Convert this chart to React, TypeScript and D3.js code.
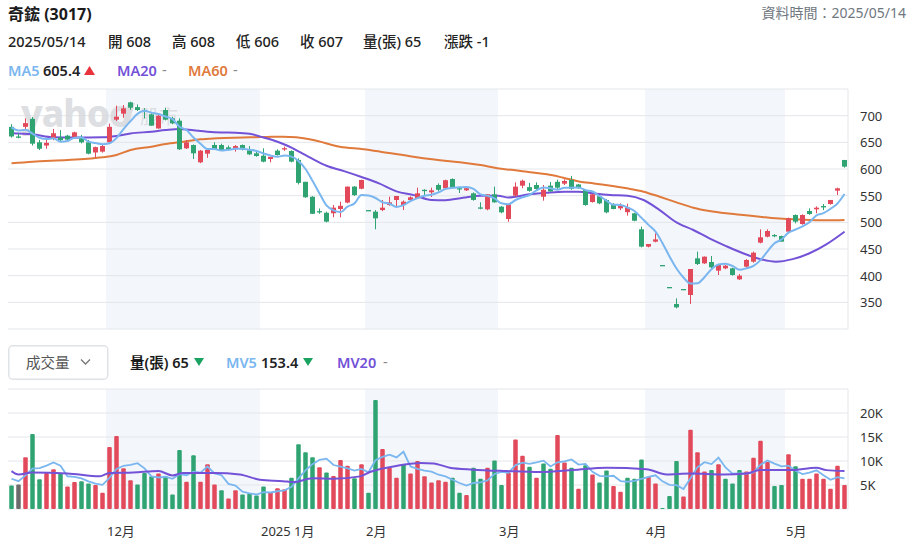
import React from "react";
import * as d3 from "d3";

// ---------- DATA ----------
const opens = [679,661,679,694,650,644,657.5,659,662.5,659.4,657.5,650,631,632.5,650,692.5,703.75,725,716,710,702.5,676,710.6,695,690.6,638.75,645,612.5,628.75,645,645,640.6,638.75,645,635,629.4,625,618.75,634.4,638,633.75,616.9,576,548,521,518,517,525,537,567,563,523,520,523,532.5,541.9,532.5,541.9,545,561,556.25,570,563.75,581.25,564,560,554.4,528,524.4,552.5,529.4,506.25,550,568.75,566,570,548,568.75,576,572.5,579.4,571,560.6,538,549,541.9,533.75,526.25,519,516.9,487,454.4,463.75,420,378.75,346.9,375,363.75,432.5,423.1,425.6,409.4,413.75,413.75,393.1,416.9,426.25,461.9,473.1,476.25,474.4,482.5,513.75,496.9,521.25,524.4,530.6,534.4,559.4,616.9];
const highs = [684,667,695,697.5,654.5,654.5,675,673,664,670,664,654.5,641.9,645,685,718.75,720,726,721,714,704.4,702,715,698,695,654.4,646,635.6,637.5,650,647.5,644,645,646,643,635,638.75,622,636.9,642,635,620,576,549,526,520,532.5,538.75,567,568,580,523,523,541.9,548,549.4,541,548.75,565,562,565,573,580,582.5,567,566,556,537.5,553,567,530.6,535,575,580,574,575,570,575.6,580,580.6,587,572,562.5,553,550,543.75,536,535.6,535,518,492,456,479.4,420,378.75,357.5,375,412.5,445,436,436.9,421,420,415,403,431,445,486.9,486.9,478,475,508.75,515,515,526.25,530,534.4,542,565,617];
const lows = [659,657.5,673,644,635.6,638,654,651,652.5,657.5,648,627.5,621,630.6,648,690,696,711,708.75,695,681,675.6,691,684,635.6,637.5,618.75,611,621,636,635,634.4,632.5,635,626,623,612.5,612.5,625,634,612.5,571,546,515.6,516,500,509.4,509.4,535.6,549.4,562,523,487,521,531,529.4,523,540,543.75,550,547.5,558,561,563.75,555,558.75,540.6,524.4,522.5,536.9,516.9,501,548,564,557.5,561,540.6,557.5,562.5,570,561,563,531,537,534,517,524.4,523,512.5,502,453,453,462.5,420,378.75,338.75,375,346.9,420,422,413.75,401.25,412,400,392,415,424.4,460.6,471.9,472,463.75,481,498,495.6,514,517,523,533,551.25,602.5];
const closes = [661,661,686,647.5,638,649,667,654,655,668.75,650,628.75,641,643,679,698,713.75,715,710.6,708,681.25,700,692.5,685.6,637,650,629.4,634.4,635.6,637.5,635.6,637,643,637,627.5,624.4,613.75,623,626.25,639,613.75,574,547,516,520.5,501.25,527.5,531,567,551,579.4,523,507.5,527.5,537.5,549.4,538.75,546.9,554.4,559,560,561,579,565,563,564,542,527.5,552.5,537.5,518.75,533.75,566.9,578,559,562.5,561,558,565,577.5,562.5,564,532.5,552.5,535.6,518.75,525,531.25,528,503,454.4,459.4,468,420,378.75,340.6,375,412.5,421.9,435.6,415.6,420,418.75,401.25,400,429.4,443.1,471.9,483.75,476.25,463.75,507.5,501.25,513.75,515.6,527.5,528,541.9,563.75,604.4];
const volumes = [4900,5100,10800,15600,6200,7500,8300,7400,4700,5600,5800,5300,5000,3400,12900,15200,8500,6000,5100,7500,6800,7400,6800,3000,12300,5700,11200,5700,9300,5100,3900,2200,3900,3000,3200,2800,4700,3500,4300,4100,6500,13500,11800,10800,8700,7600,6900,10200,9000,6400,9300,3400,22700,12500,8600,6500,9300,7400,10000,6800,5500,6000,5700,6500,3400,2900,8600,6300,8600,10100,5000,7600,14500,11100,8800,6500,9500,8400,15400,9700,8600,4200,9100,7200,5500,8000,4800,3600,6500,6300,10300,6700,5300,200,2700,10000,2600,16500,11800,7800,8100,9300,6300,5300,8100,7800,10700,14200,9800,4800,5000,11400,8900,6300,6300,7400,6300,4200,9000,5000];
const priorCloses = [690, 680, 682, 677];
const priorVolumes = [7600, 4800, 8600, 5600];

const monthStarts = [14, 36, 51, 70, 91, 111];
const monthLabels = ["12月", "2025 1月", "2月", "3月", "4月", "5月"];
const shadedMonths = [0, 2, 4];

const priceTicks = [350, 400, 450, 500, 550, 600, 650, 700];
const priceGrid = [300, 350, 400, 450, 500, 550, 600, 650, 700, 750];
const volumeTicks = [5000, 10000, 15000, 20000];
const volumeTickLabels = ["5K", "10K", "15K", "20K"];
const volumeGrid = [0, 5000, 10000, 15000, 20000, 25000];

// moving averages (bar number, value)
const ma20Bars = [1,4,7,10,14,16,18,21,23,25,27,29,31,33,35,37,39,40,41,42,44,46,48.5,51,53.5,56,58.5,61,63,65.5,68,70.5,72,75,77.5,80,82,84,86.5,89,91.3,93.6,96,98.4,100.7,103,105.5,108,110.2,112.6,115,117.4,120];
const ma20Values = [667,665,659.5,659,659.5,662,666.5,670,673,675,672.5,670,668.5,668,666,659,651,646,640,633,619,606,596,585,573,558,551,542,541.5,546,550,550,546.5,552.5,555.6,557.5,557.5,554.4,551.25,550,541.9,523,500,485.6,470,456,442,431,426.25,431,442,458.75,482.5];
const ma60Bars = [1,4,9,14,16,18,21,23,25.6,28,30.3,32.7,35,37.4,39.8,41.7,44.1,47.9,51.3,53.7,58.4,63.2,65.6,68,70.4,72.7,75.1,77.5,79.8,82.2,84.2,88.9,91.3,93.6,96,98.4,100.7,103.1,105.5,107.9,110.2,112.6,115,117.4,120];
const ma60Values = [610.6,613.75,616.9,621.9,626.25,635.6,641.9,646.9,651.25,655.6,657.5,658.75,659.4,660,660.6,659.4,654.4,641.9,636.9,632.5,623.1,615,611.9,607.5,601.25,598,593.75,590,583.75,576.25,573,563.75,557.5,548,537.5,527.5,521.25,516.9,513.75,510.6,507.5,505.6,504.4,503.75,504.4];
const mv20Bars = [1,2,4,9,13.6,15,18.4,22,24,25.5,30,33.6,36.5,39.8,41.3,44,47,50.8,52.2,56.5,59.4,61.3,63.6,66.9,71.7,76.5,81.2,86,91.7,94.6,97.9,102.7,106,107.9,112.2,116,117.4,120];
const mv20Values = [7900,7200,7600,7400,6800,7500,7600,7900,7000,7500,7500,7200,6100,5800,5600,6400,6300,6800,7700,9100,9600,9500,8600,8200,7900,7700,8100,8600,8300,7200,7400,7200,7400,8100,8100,8600,8100,7900];

// ---------- STYLE ----------
const RED = "#e2495a";
const GREEN = "#2fa472";
const GRAY = "#6b6b6b";
const C_MA5 = "#7ab6ef";
const C_MA20 = "#7352d8";
const C_MA60 = "#e07a3c";
const BAND = "#f3f6fa";
const GRID = "#e3e6ea";
const FONT = "'Noto Sans', 'Noto Sans CJK TC', sans-serif";

const L = 8, R = 848;
const P_TOP = 89, P_BOT = 329;
const V_TOP = 389, V_BOT = 509;

export default function App() {
  const n = closes.length;
  const xBand = d3.scaleBand<number>().domain(d3.range(n)).range([L, R]).paddingInner(0.3).paddingOuter(0.15);
  const xLin = d3.scaleLinear().domain([0.5, n + 0.5]).range([L, R]);
  const cx = (i: number) => (xBand(i) as number) + xBand.bandwidth() / 2;
  const yP = d3.scaleLinear().domain([300, 750]).range([P_BOT, P_TOP]);
  const yV = d3.scaleLinear().domain([0, 25000]).range([V_BOT, V_TOP]);

  const allC = [...priorCloses, ...closes];
  const ma5 = closes.map((_, i) => d3.mean(allC.slice(i, i + 5)) as number);
  const allV = [...priorVolumes, ...volumes];
  const mv5 = volumes.map((_, i) => d3.mean(allV.slice(i, i + 5)) as number);

  const ma5Path = d3.line<number>().x((_, i) => cx(i)).y((d) => yP(d)).curve(d3.curveMonotoneX)(ma5) as string;
  const mv5Path = d3.line<number>().x((_, i) => cx(i)).y((d) => yV(d)).curve(d3.curveLinear)(mv5) as string;
  const sampled = (bars: number[], vals: number[], ys: d3.ScaleLinear<number, number>) =>
    d3.line<number>().x((_, i) => xLin(bars[i])).y((d) => ys(d)).curve(d3.curveMonotoneX)(vals) as string;

  const boundaries = [...monthStarts, n];
  const bands = shadedMonths.map((m) => ({
    x0: xLin(boundaries[m] + 0.5),
    x1: xLin(boundaries[m + 1] + 0.5),
  }));

  const bodyW = 5;
  const volW = 4.5;

  return (
    <svg width={909} height={553} style={{ position: "absolute", left: 0, top: 0, fontFamily: FONT }}>
      <rect x={0} y={0} width={909} height={553} fill="#fff" />
      {/* header */}
      <text x={8} y={20} fontSize={16} fontWeight={700} fill="#1b1b1b">奇鋐 (3017)</text>
      <text x={906} y={18} fontSize={14} fill="#6f7780" textAnchor="end">資料時間：2025/05/14</text>
      <g fontSize={14.5} fill="#222" fontWeight={500}>
        <text x={8} y={47}>2025/05/14</text>
        <text x={108} y={47}>開 608</text>
        <text x={172} y={47}>高 608</text>
        <text x={236} y={47}>低 606</text>
        <text x={300} y={47}>收 607</text>
        <text x={363} y={47}>量(張) 65</text>
        <text x={444} y={47}>漲跌 -1</text>
      </g>
      <g fontSize={14.5} fontWeight={600}>
        <text x={8} y={76} fill={C_MA5}>MA5</text>
        <text x={43} y={76} fill="#222">605.4</text>
        <path d="M84,75 L89.5,66 L95,75 Z" fill="#e8333c" />
        <text x={117} y={76} fill={C_MA20}>MA20</text>
        <text x={162} y={75} fill="#888" fontWeight={400}>-</text>
        <text x={188} y={76} fill={C_MA60}>MA60</text>
        <text x={233} y={75} fill="#888" fontWeight={400}>-</text>
      </g>

      {/* price panel */}
      {bands.map((b, i) => (
        <rect key={"pb" + i} x={b.x0} y={P_TOP} width={b.x1 - b.x0} height={P_BOT - P_TOP} fill={BAND} />
      ))}
      {priceGrid.map((v) => (
        <line key={"pg" + v} x1={L} x2={R} y1={yP(v)} y2={yP(v)} stroke={GRID} strokeWidth={1} />
      ))}
      <line x1={R} x2={R} y1={P_TOP} y2={P_BOT} stroke={GRID} strokeWidth={1} />
      {priceTicks.map((v) => (
        <text key={"pt" + v} x={860} y={yP(v) + 5} fontSize={13} fill="#333">{v}</text>
      ))}
      {/* watermark */}
      <g opacity={0.8}>
        <text x={21} y={127} fontSize={37} fontWeight={800} fill="#d6d8dc" letterSpacing={-1}>yahoo</text>
        <path d="M128,103 L135,103 L130,119 L125,119 Z" fill="#d6d8dc" />
        <text x={140} y={124} fontSize={19} fill="#d6d8dc">股市</text>
      </g>
      <path d={sampled(ma60Bars, ma60Values, yP)} fill="none" stroke={C_MA60} strokeWidth={2} />
      <path d={sampled(ma20Bars, ma20Values, yP)} fill="none" stroke={C_MA20} strokeWidth={2} />
      {closes.map((c, i) => {
        const o = opens[i];
        const col = c > o ? RED : GREEN;
        const top = yP(Math.max(o, c));
        const h = Math.max(1.3, yP(Math.min(o, c)) - top);
        return (
          <g key={"c" + i}>
            <line x1={cx(i)} x2={cx(i)} y1={yP(highs[i])} y2={yP(lows[i])} stroke={col} strokeWidth={1} />
            <rect x={cx(i) - bodyW / 2} y={top} width={bodyW} height={h} fill={col} />
          </g>
        );
      })}
      <path d={ma5Path} fill="none" stroke={C_MA5} strokeWidth={2} />

      {/* volume header */}
      <rect x={8.75} y={345.75} width={99} height={33.5} rx={4} fill="#fff" stroke="#dfe2e6" strokeWidth={1.5} />
      <text x={26} y={368} fontSize={14.5} fill="#555">成交量</text>
      <path d="M81,359.5 L85.5,364 L90,359.5" fill="none" stroke="#777" strokeWidth={1.3} />
      <g fontSize={14.5} fontWeight={600}>
        <text x={130} y={368} fill="#1b1b1b">量(張) 65</text>
        <path d="M194,358 L204,358 L199,366 Z" fill="#1aa260" />
        <text x={226} y={368} fill={C_MA5}>MV5</text>
        <text x={261} y={368} fill="#222">153.4</text>
        <path d="M303,358 L313,358 L308,366 Z" fill="#1aa260" />
        <text x={337} y={368} fill={C_MA20}>MV20</text>
        <text x={383} y={367} fill="#888" fontWeight={400}>-</text>
      </g>

      {/* volume panel */}
      {bands.map((b, i) => (
        <rect key={"vb" + i} x={b.x0} y={V_TOP} width={b.x1 - b.x0} height={V_BOT - V_TOP} fill={BAND} />
      ))}
      {volumeGrid.map((v) => (
        <line key={"vg" + v} x1={L} x2={R} y1={yV(v)} y2={yV(v)} stroke={GRID} strokeWidth={1} />
      ))}
      <line x1={R} x2={R} y1={V_TOP} y2={V_BOT} stroke={GRID} strokeWidth={1} />
      {volumeTicks.map((v, i) => (
        <text key={"vt" + v} x={860} y={yV(v) + 5} fontSize={13} fill="#333">{volumeTickLabels[i]}</text>
      ))}
      {volumes.map((v, i) => {
        const prev = i === 0 ? priorCloses[priorCloses.length - 1] : closes[i - 1];
        const col = closes[i] > prev ? RED : closes[i] < prev ? GREEN : GRAY;
        const top = yV(v);
        return (
          <rect key={"v" + i} x={cx(i) - volW / 2} y={top} width={volW} height={Math.max(0.5, V_BOT - top)} rx={1} fill={col} />
        );
      })}
      <path d={mv5Path} fill="none" stroke={C_MA5} strokeWidth={1.8} />
      <path d={sampled(mv20Bars, mv20Values, yV)} fill="none" stroke={C_MA20} strokeWidth={2} />

      {/* x labels */}
      {monthStarts.map((s, i) => (
        <text key={"ml" + i} x={xLin(s + 0.5) + 1} y={536} fontSize={13} fill="#333">{monthLabels[i]}</text>
      ))}
    </svg>
  );
}
